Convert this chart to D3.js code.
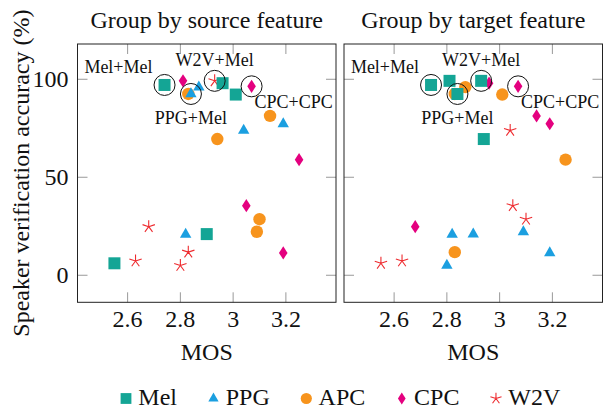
<!DOCTYPE html>
<html>
<head>
<meta charset="utf-8">
<script src="https://cdn.jsdelivr.net/npm/d3@7"></script>
<style>
  html, body { margin: 0; padding: 0; background: #fff; }
</style>
</head>
<body>
<div id="chart"></div>
<script>
// feature names: rows = source feature, cols = target feature
const features = ['Mel', 'PPG', 'APC', 'CPC', 'W2V']

// MOS[source][target]
const mos = [
  [2.74, 2.90, 3.01, 2.96, 2.55],
  [2.84, 2.82, 2.87, 3.19, 3.04],
  [2.94, 3.09, 2.83, 3.14, 3.10],
  [2.81, 3.19, 3.25, 3.07, 3.05],
  [2.93, 2.80, 2.83, 2.68, 2.63]
]

// speaker verification accuracy (%)[source][target]
const acc = [
  [97.1, 21.0, 92.2, 98.0, 6.1],
  [92.5, 20.9, 96.0, 77.3, 73.9],
  [69.5, 22.2, 92.5, 81.3, 28.6],
  [99.2, 11.4, 59.0, 96.4, 35.5],
  [99.2, 5.0, 11.8, 24.8, 7.3]
]

const xTicks = [2.6, 2.8, 3.0, 3.2]
const xTickLabels = ['2.6', '2.8', '3', '3.2']
const yTicks = [0, 50, 100]
const panelTitles = ['Group by source feature', 'Group by target feature']

// circled combinations [source, target]
const highlights = [['Mel', 'Mel'], ['W2V', 'Mel'], ['PPG', 'Mel'], ['CPC', 'CPC']]

const colors = {Mel: '#14a595', PPG: '#1b9fe0', APC: '#f7941d', CPC: '#e4007f', W2V: '#ee2b2f'}

const W = 610
const H = 410
const fontSize = 24
const noteSize = 18
const serif = "'Liberation Serif', 'Times New Roman', Times, 'DejaVu Serif', serif"
const plotTop = 44
const plotBottom = 302.3
const panelW = 258.5
const panelLeft = [77.5, 344]

const svg = d3.select('#chart').append('svg')
  .attr('width', W)
  .attr('height', H)
  .attr('font-family', serif)
  .style('font-family', serif)

svg.append('rect').attr('width', W).attr('height', H).attr('fill', '#fff')

const y = d3.scaleLinear().domain([-13.8, 118]).range([plotBottom, plotTop])

function markerPath(name, s) {
  const p = d3.path()
  if (name === 'Mel') {
    p.rect(-6 * s, -6 * s, 12 * s, 12 * s)
  } else if (name === 'PPG') {
    p.moveTo(0, -6.6 * s); p.lineTo(5.7 * s, 3.4 * s); p.lineTo(-5.7 * s, 3.4 * s); p.closePath()
  } else if (name === 'APC') {
    p.moveTo(6.2 * s, 0)
    p.arc(0, 0, 6.2 * s, 0, 2 * Math.PI)
  } else if (name === 'CPC') {
    p.moveTo(0, -6.6 * s); p.lineTo(4.3 * s, 0); p.lineTo(0, 6.6 * s); p.lineTo(-4.3 * s, 0); p.closePath()
  } else {
    for (let i = 0; i < 5; i++) {
      const a = -Math.PI / 2 + i * 2 * Math.PI / 5
      p.moveTo(0, 0); p.lineTo(6.5 * s * Math.cos(a), 6.5 * s * Math.sin(a))
    }
  }
  return p.toString()
}

function drawMarker(g, name, s) {
  const path = g.append('path').attr('d', markerPath(name, s))
  if (name === 'W2V') {
    path.attr('fill', 'none').attr('stroke', colors[name]).attr('stroke-width', 1.1)
  } else {
    path.attr('fill', colors[name])
  }
}

function addText(parent, x, yy, str, anchor, size) {
  return parent.append('text')
    .attr('x', x).attr('y', yy)
    .attr('text-anchor', anchor || 'start')
    .attr('font-size', size || fontSize)
    .attr('font-family', serif)
    .style('font-family', serif)
    .attr('fill', '#111')
    .text(str)
}

// label placement relative to the circled point
const labelPos = {
  'Mel+Mel': {dx: -12, dy: -12, anchor: 'end'},
  'W2V+Mel': {dx: 0, dy: -14.5, anchor: 'middle'},
  'PPG+Mel': {dx: 0, dy: 30, anchor: 'middle'},
  'CPC+CPC': {dx: 3, dy: 22, anchor: 'start'}
}

panelLeft.forEach((left, pi) => {
  const x = d3.scaleLinear().domain([2.41, 3.39]).range([left, left + panelW])
  const g = svg.append('g')

  // ticks (inside, all four sides)
  const tickLen = 10
  xTicks.forEach(t => {
    g.append('line').attr('x1', x(t)).attr('x2', x(t)).attr('y1', plotBottom).attr('y2', plotBottom - tickLen)
      .attr('stroke', '#999').attr('stroke-width', 1)
    g.append('line').attr('x1', x(t)).attr('x2', x(t)).attr('y1', plotTop).attr('y2', plotTop + tickLen)
      .attr('stroke', '#999').attr('stroke-width', 1)
  })
  yTicks.forEach(t => {
    g.append('line').attr('x1', left).attr('x2', left + tickLen).attr('y1', y(t)).attr('y2', y(t))
      .attr('stroke', '#999').attr('stroke-width', 1)
    g.append('line').attr('x1', left + panelW).attr('x2', left + panelW - tickLen).attr('y1', y(t)).attr('y2', y(t))
      .attr('stroke', '#999').attr('stroke-width', 1)
  })

  g.append('rect')
    .attr('x', left).attr('y', plotTop).attr('width', panelW).attr('height', plotBottom - plotTop)
    .attr('fill', 'none').attr('stroke', '#222').attr('stroke-width', 1)

  // tick labels
  xTicks.forEach((t, i) => addText(g, x(t), 327, xTickLabels[i], 'middle'))
  if (pi === 0) {
    yTicks.forEach(t => addText(g, left - 9, y(t) + 8, t, 'end'))
  }

  addText(g, left + panelW / 2, 28, panelTitles[pi], 'middle')
  addText(g, left + panelW / 2, 360, 'MOS', 'middle')

  // points: grouped by source (left) or target (right); Mel drawn last
  const order = d3.range(features.length).reverse()
  order.forEach(k => {
    features.forEach((_, j) => {
      const si = pi === 0 ? k : j
      const ti = pi === 0 ? j : k
      const m = g.append('g').attr('transform', `translate(${x(mos[si][ti])},${y(acc[si][ti])})`)
      drawMarker(m, features[k], 1)
    })
  })

  highlights.forEach(([src, tgt]) => {
    const si = features.indexOf(src)
    const ti = features.indexOf(tgt)
    const cx = x(mos[si][ti])
    const cy = y(acc[si][ti])
    g.append('circle').attr('cx', cx).attr('cy', cy).attr('r', 10.5)
      .attr('fill', 'none').attr('stroke', '#111').attr('stroke-width', 1)
    const label = `${src}+${tgt}`
    const lp = labelPos[label]
    addText(g, cx + lp.dx, cy + lp.dy, label, lp.anchor, noteSize)
  })
})

// y axis label
addText(svg, 0, 0, 'Speaker verification accuracy (%)', 'middle')
  .attr('transform', `translate(29,${(plotTop + plotBottom) / 2}) rotate(-90)`)

// legend
let lx = 126
features.forEach(f => {
  const m = svg.append('g').attr('transform', `translate(${lx},398.5)`)
  drawMarker(m, f, 0.9)
  const t = addText(svg, lx + 12.3, 404.5, f)
  lx += 12.3 + t.node().getComputedTextLength() + 36.5
})
</script>
</body>
</html>
